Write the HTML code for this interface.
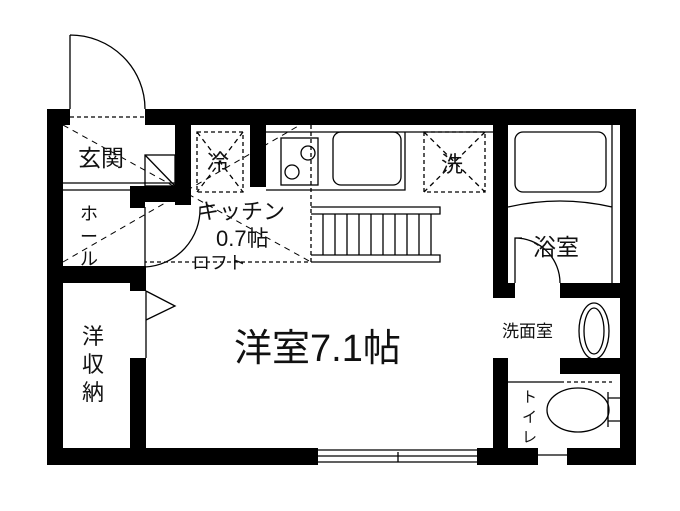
<!DOCTYPE html>
<html><head><meta charset="utf-8"><style>
body{margin:0;background:#fff}
svg text{font-family:"Liberation Sans","Noto Sans CJK JP",sans-serif;fill:#111}
</style></head><body>
<svg width="680" height="506" viewBox="0 0 680 506" xmlns="http://www.w3.org/2000/svg">
<g fill="#000">
<rect x="47" y="109" width="23" height="16"/>
<rect x="145" y="109" width="491" height="16"/>
<rect x="47" y="109" width="16" height="356"/>
<rect x="620" y="109" width="16" height="356"/>
<rect x="47" y="448" width="271" height="17"/>
<rect x="477" y="448" width="61" height="17"/>
<rect x="567" y="448" width="69" height="17"/>
<rect x="175" y="109" width="16" height="96"/>
<rect x="130" y="186" width="61" height="16"/>
<rect x="130" y="186" width="15" height="22"/>
<rect x="250" y="109" width="16" height="78"/>
<rect x="47" y="266" width="98" height="17"/>
<rect x="130" y="266" width="16" height="25"/>
<rect x="130" y="358" width="16" height="90"/>
<rect x="493" y="109" width="15" height="189"/>
<rect x="493" y="283" width="22" height="15"/>
<rect x="560" y="283" width="60" height="15"/>
<rect x="493" y="358" width="15" height="107"/>
<rect x="560" y="358" width="60" height="16"/>
</g>
<g fill="none" stroke="#000" stroke-width="1.3">
<path d="M70 35 L70 109 M70 35 A75 74 0 0 1 145 109"/>
<path d="M70 117 H145" stroke-dasharray="4,3"/>
<path d="M63 183 H175 M63 190 H130"/>
<rect x="145" y="155" width="30" height="31"/>
<path d="M145 155 L175 186"/>
<path d="M145 207 V267 M145 267 A58 58 0 0 0 200 207"/>
<path d="M146 291 V358 M146 291 L175 306 L146 320"/>
<rect x="197" y="132" width="46" height="60" stroke-dasharray="4,3"/>
<path d="M197 132 L243 192 M243 132 L197 192" stroke-dasharray="5,4"/>
<path d="M266 132 H493"/>
<rect x="281" y="138" width="37" height="47"/>
<circle cx="308" cy="153" r="7"/><circle cx="292" cy="172" r="7"/>
<rect x="333" y="132" width="68" height="53" rx="8"/>
<path d="M266 190 H405 V132"/>
<rect x="424" y="132" width="61" height="60" stroke-dasharray="4,3"/>
<path d="M424 132 L485 192 M485 132 L424 192" stroke-dasharray="5,4"/>
<path d="M311 125 V262 H145" stroke-dasharray="4,3"/>
<path d="M63 125 L311 262 M63 262 L300 125" stroke-dasharray="6,5" stroke-width="1"/>
<path d="M311 207 H440 V214 H311 M311 255 H440 V262 H311"/>
<path d="M323 214 V255 M335 214 V255 M347 214 V255 M359 214 V255 M371 214 V255 M383 214 V255 M395 214 V255 M407 214 V255 M419 214 V255 M431 214 V255"/>
<rect x="515" y="132" width="91" height="60" rx="8"/>
<path d="M508 207 Q560 195 612 207 M612 125 V283"/>
<path d="M515 283 V238 H522 M515 238 A45 45 0 0 1 560 283"/>
<ellipse cx="594" cy="331" rx="15" ry="28"/><ellipse cx="594" cy="331" rx="10" ry="23"/>
<path d="M508 382 H560"/><path d="M560 382 H612" stroke-dasharray="4,3"/>
<ellipse cx="578" cy="410" rx="31" ry="22"/>
<path d="M608 392 V398 H620 M608 427 V421 H620 M608 398 V427"/>
<path d="M318 450 H477 M318 456 H477 M318 462 H477 M398 452 V462"/>
<path d="M538 455 H567"/>
</g>
<text x="78" y="166" font-size="23">玄関</text>
<text x="207" y="170" font-size="22">冷</text>
<text x="441" y="172" font-size="22">洗</text>
<text x="197" y="219" font-size="22">キッチン</text>
<text x="216" y="246" font-size="22">0.7帖</text>
<text x="192" y="269" font-size="18">ロフト</text>
<text x="80" y="220" font-size="18">ホ</text><text x="80" y="243" font-size="18">ー</text><text x="80" y="265" font-size="18">ル</text>
<text x="82" y="344" font-size="22">洋</text><text x="82" y="372" font-size="22">収</text><text x="82" y="400" font-size="22">納</text>
<text x="234" y="361" font-size="38">洋室7.1帖</text>
<text x="533" y="255" font-size="23">浴室</text>
<text x="502" y="337" font-size="17">洗面室</text>
<text x="522" y="402" font-size="15">ト</text><text x="522" y="422" font-size="15">イ</text><text x="522" y="442" font-size="15">レ</text>
</svg>
</body></html>
